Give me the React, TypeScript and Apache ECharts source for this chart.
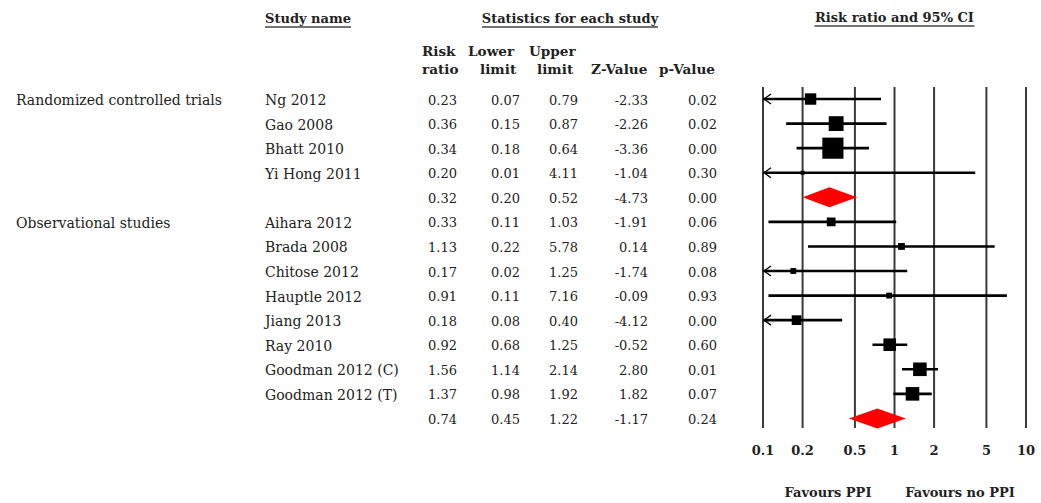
import React, { useEffect, useRef } from "react";
import * as echarts from "echarts";

// ---- Forest plot data ----
const studyNames = [
  "Ng 2012", "Gao 2008", "Bhatt 2010", "Yi Hong 2011", "",
  "Aihara 2012", "Brada 2008", "Chitose 2012", "Hauptle 2012", "Jiang 2013",
  "Ray 2010", "Goodman 2012 (C)", "Goodman 2012 (T)", "",
];
const isSummary = [false, false, false, false, true, false, false, false, false, false, false, false, false, true];
const riskRatio = [0.23, 0.36, 0.34, 0.2, 0.32, 0.33, 1.13, 0.17, 0.91, 0.18, 0.92, 1.56, 1.37, 0.74];
const lowerLimit = [0.07, 0.15, 0.18, 0.01, 0.2, 0.11, 0.22, 0.02, 0.11, 0.08, 0.68, 1.14, 0.98, 0.45];
const upperLimit = [0.79, 0.87, 0.64, 4.11, 0.52, 1.03, 5.78, 1.25, 7.16, 0.4, 1.25, 2.14, 1.92, 1.22];
const zValue = [-2.33, -2.26, -3.36, -1.04, -4.73, -1.91, 0.14, -1.74, -0.09, -4.12, -0.52, 2.8, 1.82, -1.17];
const pValue = [0.02, 0.02, 0.0, 0.3, 0.0, 0.06, 0.89, 0.08, 0.93, 0.0, 0.6, 0.01, 0.07, 0.24];
// relative weight (%) within each subgroup
const weights = [16, 27, 55, 2, 0, 9.4, 5.7, 4.2, 4.2, 11.6, 19.6, 22.7, 22.7, 0];

const groupLabels = ["Randomized controlled trials", "Observational studies"];
const groupRows = [0, 5];

const tickValues = [0.1, 0.2, 0.5, 1, 2, 5, 10];
const tickLabels = ["0.1", "0.2", "0.5", "1", "2", "5", "10"];

const statHeaderTop = ["Risk", "Lower", "Upper", "", ""];
const statHeaderBottom = ["ratio", "limit", "limit", "Z-Value", "p-Value"];

// ---- layout ----
const X_MIN = 0.1;
const X_MAX = 10;
const Y_MIN = -0.49;
const Y_MAX = 13.39;
const FONT = "'DejaVu Serif', 'Liberation Serif', serif";
const TEXT = "#222";
const NAME_X = 265;
const GROUP_X = 16;
const COL_RIGHT = [457, 520, 578, 648, 717];
const HEAD_TOP_X = [422, 468, 529, 0, 0];
const HEAD_BOTTOM_X = [422, 480, 537, 591, 659];

const fmt = (v: number) => v.toFixed(2);

export default function App() {
  const ref = useRef<HTMLDivElement>(null);

  useEffect(() => {
    if (!ref.current) return;
    const chart = echarts.init(ref.current, null, { renderer: "svg" });

    const bodyText = (x: number, y: number, text: string, align: string, size = 13) => ({
      type: "text",
      x,
      y,
      style: {
        text,
        fill: TEXT,
        font: `${size}px ${FONT}`,
        align,
        verticalAlign: "middle",
      },
    });

    const boldText = (x: number, y: number, text: string, align: string, size = 13) => ({
      type: "text",
      x,
      y,
      style: { text, fill: TEXT, font: `bold ${size}px ${FONT}`, align, verticalAlign: "middle" },
    });

    const headerGraphics: any[] = [];
    const header = (cx: number, y: number, text: string, halfWidth: number) => {
      headerGraphics.push(boldText(cx, y, text, "center"));
      headerGraphics.push({
        type: "line",
        shape: { x1: cx - halfWidth, y1: y + 9, x2: cx + halfWidth, y2: y + 9 },
        style: { stroke: "#444", lineWidth: 1.5 },
      });
    };
    header(NAME_X + 43, 18, "Study name", 43);
    header(570, 18, "Statistics for each study", 88);
    header(894.5, 17, "Risk ratio and 95% CI", 80);

    statHeaderTop.forEach((t, c) => {
      if (t) headerGraphics.push(boldText(HEAD_TOP_X[c], 51, t, "left", 13.6));
    });
    statHeaderBottom.forEach((t, c) => {
      if (t) headerGraphics.push(boldText(HEAD_BOTTOM_X[c], 69, t, "left", 13.6));
    });

    headerGraphics.push(boldText(828, 492, "Favours PPI", "center"));
    headerGraphics.push(boldText(960, 492, "Favours no PPI", "center"));

    const option: any = {
      animation: false,
      backgroundColor: "#fff",
      grid: { left: 763, right: 15, top: 87, height: 341 },
      xAxis: {
        type: "log",
        logBase: 10,
        min: X_MIN,
        max: X_MAX,
        axisLine: { show: false },
        axisTick: { show: false },
        axisLabel: { show: false },
        splitLine: { show: false },
      },
      yAxis: {
        type: "value",
        min: Y_MIN,
        max: Y_MAX,
        inverse: true,
        show: false,
      },
      graphic: headerGraphics,
      series: [
        {
          // reference lines and tick labels
          type: "custom",
          data: tickValues.map((v) => [v, Y_MIN]),
          renderItem: (params: any, api: any) => {
            const i = params.dataIndex;
            const [x, yTop] = api.coord([tickValues[i], Y_MIN]);
            const yBot = api.coord([tickValues[i], Y_MAX])[1];
            return {
              type: "group",
              children: [
                {
                  type: "line",
                  shape: { x1: x, y1: yTop, x2: x, y2: yBot },
                  style: { stroke: "#3a3a3a", lineWidth: 2 },
                },
                boldText(x, yBot + 22, tickLabels[i], "center"),
              ],
            };
          },
          z: 1,
        },
        {
          // confidence intervals, study boxes and pooled diamonds
          type: "custom",
          data: riskRatio.map((v, i) => [v, i]),
          renderItem: (params: any, api: any) => {
            const i = params.dataIndex;
            const [xc, y] = api.coord([riskRatio[i], i]);
            const lo = Math.max(lowerLimit[i], X_MIN);
            const hi = Math.min(upperLimit[i], X_MAX);
            const x1 = api.coord([lo, i])[0];
            const x2 = api.coord([hi, i])[0];
            const children: any[] = [];
            if (isSummary[i]) {
              children.push({
                type: "polygon",
                shape: { points: [[x1, y], [xc, y - 10], [x2, y], [xc, y + 10]] },
                style: { fill: "#ff0000" },
              });
            } else {
              children.push({
                type: "line",
                shape: { x1, y1: y, x2, y2: y },
                style: { stroke: "#000", lineWidth: 2.6 },
              });
              if (lowerLimit[i] < X_MIN) {
                children.push({
                  type: "polyline",
                  shape: { points: [[x1 + 8, y - 5], [x1 + 1, y], [x1 + 8, y + 5]] },
                  style: { stroke: "#000", lineWidth: 1.3, fill: null },
                });
              }
              const s = Math.max(3, 2.85 * Math.sqrt(weights[i]));
              children.push({
                type: "rect",
                shape: { x: xc - s / 2, y: y - s / 2, width: s, height: s },
                style: { fill: "#000" },
              });
            }
            return { type: "group", children };
          },
          z: 2,
        },
        {
          // table columns
          type: "custom",
          data: riskRatio.map((v, i) => [v, i]),
          renderItem: (params: any, api: any) => {
            const i = params.dataIndex;
            const y = api.coord([1, i])[1] + 1;
            const children: any[] = [];
            if (studyNames[i]) children.push(bodyText(NAME_X, y, studyNames[i], "left", 14));
            const g = groupRows.indexOf(i);
            if (g >= 0) children.push(bodyText(GROUP_X, y, groupLabels[g], "left", 14));
            const vals = [riskRatio[i], lowerLimit[i], upperLimit[i], zValue[i], pValue[i]];
            vals.forEach((v, c) => children.push(bodyText(COL_RIGHT[c], y, fmt(v), "right")));
            return { type: "group", children };
          },
          z: 3,
        },
      ],
    };

    chart.setOption(option);
    return () => chart.dispose();
  }, []);

  return (
    <div
      ref={ref}
      style={{ position: "fixed", left: 0, top: 0, width: 1041, height: 503, background: "#fff" }}
    />
  );
}
